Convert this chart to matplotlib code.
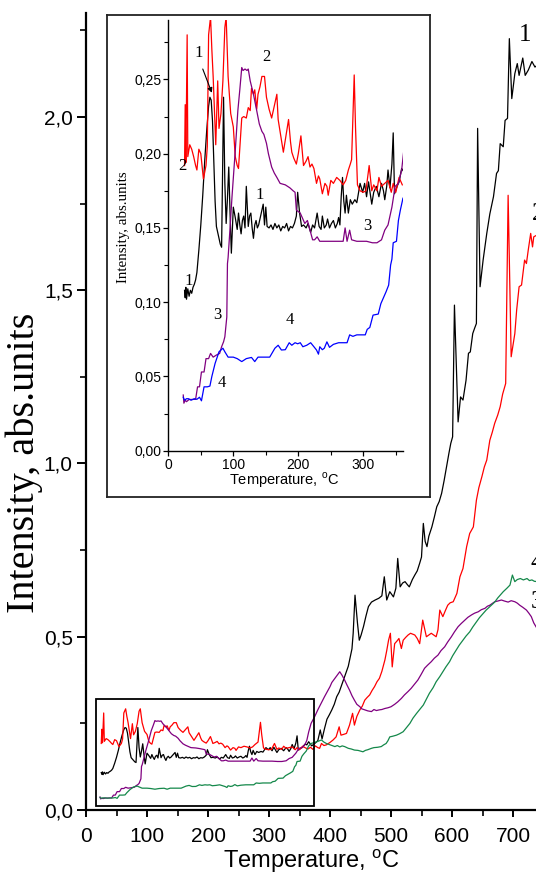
import numpy as np
import matplotlib
matplotlib.use("Agg")
import matplotlib.pyplot as plt
from matplotlib.patches import Rectangle
from matplotlib.ticker import MultipleLocator, FuncFormatter

plt.rcParams['mathtext.fontset'] = 'custom'
plt.rcParams['mathtext.rm'] = 'Liberation Sans'

SANS = 'Liberation Sans'
SERIF = 'Liberation Serif'

# ---------------- data ----------------
T1 = [25,26,27,28,30,32,34,36,38,40,42,44,47,50,53,56,59,62,64,66,68,70,72,74,77,80,82,85,87,89,91,93,95,97,100,103,106,108,110,112,114,116,118,120,123,125,127,129,131,133,135,137,139,142,144,146,148,150,152,155,158,161,164,167,170,173,176,179,182,185,188,191,194,197,199,202,205,208,212,215,219,222,225,229,232,235,237,240,243,245,248,251,254,257,260,262,264,266,268,270,272,274,277,280,283,287,290,292,295,299,302,305,308,311,313,316,320,324,328,331,333,336,338,341,344,346,348,352,355,359,362,365,370,375,380,384,387,391,395,399,403,407,411,415,418,422,426,430,433,436,438,441,445,448,451,455,459,463,468,474,480,485,489,493,498,504,508,511,515,519,523,527,530,535,539,543,547,550,553,556,559,562,567,571,575,579,583,587,591,595,598,601,604,610,614,618,623,627,630,634,637,640,642,646,651,657,662,668,673,676,679,684,687,691,694,698,703,707,710,716,720,725,731,736,740]
I1 = [0.108,0.103,0.110,0.102,0.109,0.104,0.108,0.106,0.110,0.112,0.115,0.120,0.135,0.152,0.172,0.195,0.215,0.232,0.238,0.236,0.222,0.195,0.168,0.151,0.145,0.139,0.137,0.238,0.180,0.153,0.170,0.191,0.160,0.133,0.164,0.157,0.149,0.160,0.152,0.146,0.155,0.158,0.150,0.178,0.151,0.158,0.160,0.150,0.143,0.152,0.155,0.150,0.152,0.158,0.162,0.166,0.152,0.164,0.151,0.150,0.152,0.149,0.153,0.150,0.152,0.148,0.151,0.150,0.153,0.148,0.151,0.150,0.153,0.158,0.174,0.160,0.151,0.152,0.150,0.153,0.147,0.152,0.150,0.160,0.151,0.149,0.158,0.150,0.152,0.156,0.150,0.153,0.155,0.150,0.153,0.157,0.152,0.171,0.184,0.168,0.160,0.172,0.160,0.169,0.166,0.169,0.167,0.172,0.180,0.174,0.180,0.171,0.181,0.172,0.166,0.174,0.178,0.171,0.180,0.175,0.169,0.178,0.189,0.177,0.193,0.214,0.173,0.178,0.181,0.190,0.188,0.197,0.185,0.192,0.200,0.231,0.205,0.235,0.262,0.275,0.289,0.305,0.327,0.340,0.355,0.375,0.395,0.415,0.440,0.465,0.510,0.620,0.540,0.490,0.505,0.530,0.560,0.587,0.600,0.606,0.611,0.618,0.673,0.606,0.630,0.615,0.640,0.726,0.644,0.655,0.659,0.650,0.644,0.665,0.678,0.690,0.712,0.730,0.827,0.775,0.760,0.790,0.817,0.845,0.875,0.890,0.914,0.950,0.990,1.030,1.058,1.077,1.457,1.120,1.192,1.183,1.240,1.318,1.322,1.375,1.390,1.404,1.967,1.510,1.587,1.664,1.720,1.770,1.837,1.845,1.923,1.914,1.990,1.996,2.226,2.053,2.125,2.154,2.120,2.170,2.120,2.135,2.160,2.144,2.150]

T2 = [25,26,27,29,30,33,36,39,42,44,47,50,54,58,60,62,65,67,69,73,76,78,81,84,87,89,92,96,100,103,106,108,113,116,120,123,126,128,131,133,136,138,141,144,148,151,155,159,163,167,169,173,177,181,185,188,190,193,197,200,204,208,212,215,218,221,224,228,231,233,237,241,244,246,250,254,259,264,269,273,277,280,282,286,288,291,295,300,304,309,313,316,321,324,328,333,338,343,346,350,355,360,364,368,372,376,380,383,386,390,394,400,405,410,415,418,422,427,432,437,440,444,449,453,457,461,465,469,473,477,481,485,490,493,496,499,502,506,510,513,517,520,524,528,532,535,539,543,547,552,558,562,566,570,574,577,580,585,589,593,597,602,608,613,618,624,629,635,640,644,649,653,657,662,666,670,675,679,683,688,692,697,703,706,710,714,719,722,725,729,732,734,740]
I2 = [0.192,0.233,0.194,0.280,0.198,0.206,0.203,0.198,0.192,0.189,0.203,0.200,0.183,0.192,0.205,0.280,0.292,0.270,0.252,0.206,0.249,0.217,0.227,0.249,0.285,0.292,0.252,0.227,0.218,0.198,0.192,0.190,0.224,0.225,0.224,0.231,0.229,0.244,0.240,0.243,0.230,0.240,0.245,0.252,0.252,0.238,0.230,0.224,0.232,0.240,0.223,0.212,0.201,0.212,0.223,0.208,0.201,0.197,0.193,0.200,0.212,0.192,0.195,0.198,0.191,0.193,0.190,0.180,0.185,0.183,0.173,0.180,0.178,0.172,0.182,0.180,0.184,0.182,0.179,0.182,0.189,0.193,0.196,0.253,0.218,0.179,0.175,0.174,0.175,0.192,0.175,0.179,0.175,0.184,0.178,0.180,0.182,0.174,0.180,0.174,0.184,0.179,0.176,0.181,0.175,0.185,0.180,0.178,0.192,0.186,0.188,0.195,0.202,0.211,0.240,0.216,0.218,0.221,0.245,0.279,0.245,0.270,0.289,0.300,0.317,0.325,0.332,0.345,0.356,0.370,0.380,0.400,0.433,0.460,0.490,0.510,0.413,0.480,0.488,0.495,0.466,0.490,0.498,0.505,0.510,0.508,0.505,0.495,0.480,0.548,0.500,0.505,0.510,0.505,0.500,0.520,0.577,0.558,0.575,0.591,0.598,0.601,0.625,0.673,0.697,0.760,0.798,0.817,0.894,0.930,0.962,0.990,1.010,1.067,1.090,1.116,1.140,1.164,1.200,1.231,1.774,1.308,1.375,1.443,1.510,1.515,1.587,1.577,1.616,1.664,1.625,1.654,1.660]

T3 = [23,24,26,28,32,36,42,45,48,51,55,58,62,65,69,74,79,82,85,87,90,91,92,95,98,103,107,110,113,115,118,121,123,126,131,136,140,144,147,149,151,154,159,163,167,172,180,187,192,195,197,203,207,210,214,218,222,225,229,233,244,254,262,269,272,275,279,282,290,305,314,321,328,333,338,344,349,354,359,362,365,369,375,380,386,391,395,400,403,408,412,416,420,424,428,432,436,440,444,449,452,457,462,468,472,476,481,485,490,495,500,506,511,517,522,528,533,538,544,549,555,560,566,571,577,582,588,593,599,604,610,615,621,626,632,637,643,648,654,658,662,666,670,675,681,686,692,697,703,707,711,716,722,726,730,734,738]
I3 = [0.0375,0.032,0.034,0.033,0.0345,0.0345,0.0346,0.043,0.043,0.053,0.053,0.062,0.062,0.0655,0.063,0.0644,0.0655,0.070,0.0733,0.0767,0.090,0.126,0.130,0.150,0.171,0.202,0.229,0.243,0.258,0.256,0.257,0.256,0.257,0.249,0.240,0.229,0.220,0.215,0.213,0.210,0.207,0.200,0.191,0.187,0.184,0.180,0.179,0.177,0.175,0.174,0.162,0.160,0.156,0.153,0.155,0.1485,0.142,0.142,0.144,0.141,0.141,0.141,0.141,0.141,0.150,0.141,0.1485,0.142,0.141,0.141,0.140,0.140,0.142,0.1485,0.152,0.164,0.178,0.180,0.189,0.201,0.225,0.250,0.270,0.289,0.310,0.327,0.340,0.356,0.368,0.380,0.390,0.399,0.388,0.375,0.360,0.346,0.330,0.317,0.305,0.298,0.292,0.289,0.286,0.284,0.290,0.287,0.289,0.290,0.293,0.295,0.298,0.305,0.312,0.322,0.332,0.342,0.351,0.362,0.375,0.390,0.409,0.418,0.428,0.438,0.447,0.460,0.471,0.485,0.500,0.514,0.529,0.538,0.548,0.556,0.563,0.568,0.572,0.578,0.582,0.588,0.591,0.596,0.601,0.603,0.606,0.603,0.600,0.604,0.601,0.597,0.591,0.585,0.577,0.568,0.558,0.540,0.528]

T4 = [23,25,28,31,35,40,44,48,51,55,60,64,67,72,78,84,87,92,100,106,113,120,128,133,138,145,151,156,160,164,169,174,180,186,190,195,199,203,207,213,219,224,228,231,233,237,240,244,248,254,262,275,279,284,290,303,306,310,315,323,327,330,335,339,342,344,346,351,354,357,361,365,369,375,380,386,390,394,400,408,412,416,420,424,430,435,440,446,450,454,458,462,468,472,478,484,488,492,495,498,503,509,514,520,525,531,536,542,547,553,558,563,569,574,580,585,590,596,601,607,612,618,623,629,634,640,645,651,656,662,666,670,675,680,684,690,695,699,703,707,712,717,723,727,731,735,740]
I4 = [0.036,0.034,0.035,0.035,0.034,0.035,0.0346,0.036,0.0336,0.043,0.043,0.0435,0.050,0.0588,0.0666,0.069,0.0666,0.063,0.063,0.062,0.060,0.062,0.0628,0.060,0.063,0.063,0.063,0.063,0.066,0.069,0.071,0.0678,0.068,0.0727,0.071,0.0727,0.072,0.0727,0.070,0.071,0.0727,0.070,0.0678,0.065,0.070,0.068,0.069,0.0733,0.0696,0.0716,0.0727,0.0727,0.078,0.077,0.078,0.078,0.0817,0.083,0.0913,0.092,0.099,0.102,0.107,0.1115,0.125,0.129,0.140,0.141,0.155,0.162,0.170,0.185,0.192,0.195,0.198,0.202,0.196,0.192,0.188,0.183,0.186,0.182,0.185,0.183,0.178,0.176,0.173,0.172,0.170,0.168,0.172,0.174,0.178,0.180,0.181,0.183,0.188,0.192,0.200,0.211,0.213,0.216,0.220,0.226,0.237,0.250,0.265,0.279,0.290,0.303,0.320,0.337,0.353,0.370,0.385,0.399,0.413,0.428,0.445,0.462,0.476,0.490,0.502,0.514,0.528,0.543,0.555,0.567,0.577,0.587,0.594,0.600,0.612,0.622,0.630,0.640,0.649,0.678,0.659,0.665,0.668,0.664,0.668,0.662,0.664,0.660,0.659]

curve_names = ['1', '2', '3', '4']
main_colors = ['black', '#ff0000', '#800080', '#14884a']
inset_colors = ['black', '#ff0000', '#800080', '#0000ff']

main_xticks = [0, 100, 200, 300, 400, 500, 600, 700]
main_yticks = [0.0, 0.5, 1.0, 1.5, 2.0]
inset_xticks = [0, 100, 200, 300]
inset_yticks = [0.00, 0.05, 0.10, 0.15, 0.20, 0.25]

# zoom region shown in the inset
zoom_T = (16.4, 373.8)
zoom_I = (0.011, 0.321)
inset_Tmax = 361

W, H = 536, 874
fig = plt.figure(figsize=(W / 100, H / 100), dpi=100)

def fx(px):
    return px / W

def fy(py):
    return 1 - py / H

comma = FuncFormatter(lambda v, p: ('%.1f' % v).replace('.', ','))
comma2 = FuncFormatter(lambda v, p: ('%.2f' % v).replace('.', ','))

# ---------------- main axes ----------------
ax = fig.add_axes([fx(86), fy(810), fx(536 - 86), (810 - 13) / H])
series = [(T1, I1), (T2, I2), (T3, I3), (T4, I4)]
for (t, v), c in zip(series, main_colors):
    ax.plot(t, v, color=c, lw=0.9, zorder=3)
ax.set_xlim(0, 737.7)
ax.set_ylim(0, 2.30)
for s in ['top', 'right']:
    ax.spines[s].set_visible(False)
for s in ['left', 'bottom']:
    ax.spines[s].set_linewidth(1.6)
ax.set_xticks(main_xticks)
ax.set_yticks(main_yticks)
ax.xaxis.set_minor_locator(MultipleLocator(50))
ax.yaxis.set_minor_locator(MultipleLocator(0.25))
ax.yaxis.set_major_formatter(comma)
ax.tick_params(which='major', direction='out', length=6.5, width=1.4, labelsize=15, pad=3)
ax.tick_params(axis='x', which='major', length=5, pad=7)
ax.tick_params(which='minor', direction='out', length=4, width=1.2)
for lab in ax.get_xticklabels() + ax.get_yticklabels():
    lab.set_fontfamily(SANS)

ax.add_patch(Rectangle((zoom_T[0], zoom_I[0]), zoom_T[1] - zoom_T[0], zoom_I[1] - zoom_I[0],
                       fill=False, lw=1.3, edgecolor='black', zorder=4))

fig.text(fx(311), fy(868), 'Temperature, $^{\\rm o}$C', ha='center', va='baseline',
         fontsize=17, family=SANS)
fig.text(fx(24), fy(463), 'Intensity, abs.units', rotation=90, ha='center', va='center',
         fontsize=29, family=SERIF)

main_lab = [('1', 719.7, 2.236, 'center'), ('2', 731, 1.72, 'left'),
            ('4', 728, 0.713, 'left'), ('3', 729, 0.601, 'left')]
for txt, x, y, ha in main_lab:
    ax.text(x, y, txt, ha=ha, va='center', fontsize=18, family=SERIF, clip_on=False)

# ---------------- inset frame ----------------
frame = fig.add_axes([fx(107), fy(497), fx(430 - 107), (497 - 15) / H])
frame.set_xticks([])
frame.set_yticks([])
for s in frame.spines.values():
    s.set_linewidth(1.3)
    s.set_edgecolor('#222222')
frame.set_zorder(5)

# ---------------- inset axes ----------------
axi = fig.add_axes([fx(168.3), fy(450.7), fx(402.7 - 168.3), (450.7 - 20) / H])
axi.set_zorder(6)
axi.patch.set_alpha(0)
for (t, v), c in zip(series, inset_colors):
    t = np.asarray(t)
    v = np.asarray(v)
    m = t <= inset_Tmax + 1
    axi.plot(t[m], v[m], color=c, lw=0.9)
axi.set_xlim(0, 360.6)
axi.set_ylim(0, 0.29)
for s in ['top', 'right']:
    axi.spines[s].set_visible(False)
for s in ['left', 'bottom']:
    axi.spines[s].set_linewidth(1.0)
axi.set_xticks(inset_xticks)
axi.set_yticks(inset_yticks)
axi.xaxis.set_minor_locator(MultipleLocator(50))
axi.yaxis.set_minor_locator(MultipleLocator(0.025))
axi.yaxis.set_major_formatter(comma2)
axi.tick_params(which='major', direction='out', length=3.5, width=0.9, labelsize=10, pad=1.5)
axi.tick_params(which='minor', direction='out', length=3, width=0.8)
for lab in axi.get_xticklabels() + axi.get_yticklabels():
    lab.set_fontfamily(SANS)

fig.text(fx(284.5), fy(480), 'Temperature, $^{\\rm o}$C', ha='center', va='center',
         fontsize=10.5, family=SANS, zorder=7)
fig.text(fx(123.5), fy(227), 'Intensity, abs.units', rotation=90, ha='center', va='center',
         fontsize=10.8, family=SERIF, zorder=7)

inset_lab = [('1', 47, 0.268), ('2', 151.4, 0.265), ('2', 21, 0.192), ('1', 140, 0.172),
             ('3', 306, 0.151), ('1', 30.9, 0.114), ('3', 75.4, 0.0913),
             ('4', 187, 0.0879), ('4', 82, 0.0453)]
for txt, x, y in inset_lab:
    axi.text(x, y, txt, ha='center', va='center', fontsize=12, family=SERIF)
axi.annotate('', xy=(67, 0.241), xytext=(53, 0.257),
             arrowprops=dict(arrowstyle='-|>', lw=0.8, color='black', mutation_scale=7,
                             shrinkA=0, shrinkB=0))

fig.savefig('out.png', dpi=100)
